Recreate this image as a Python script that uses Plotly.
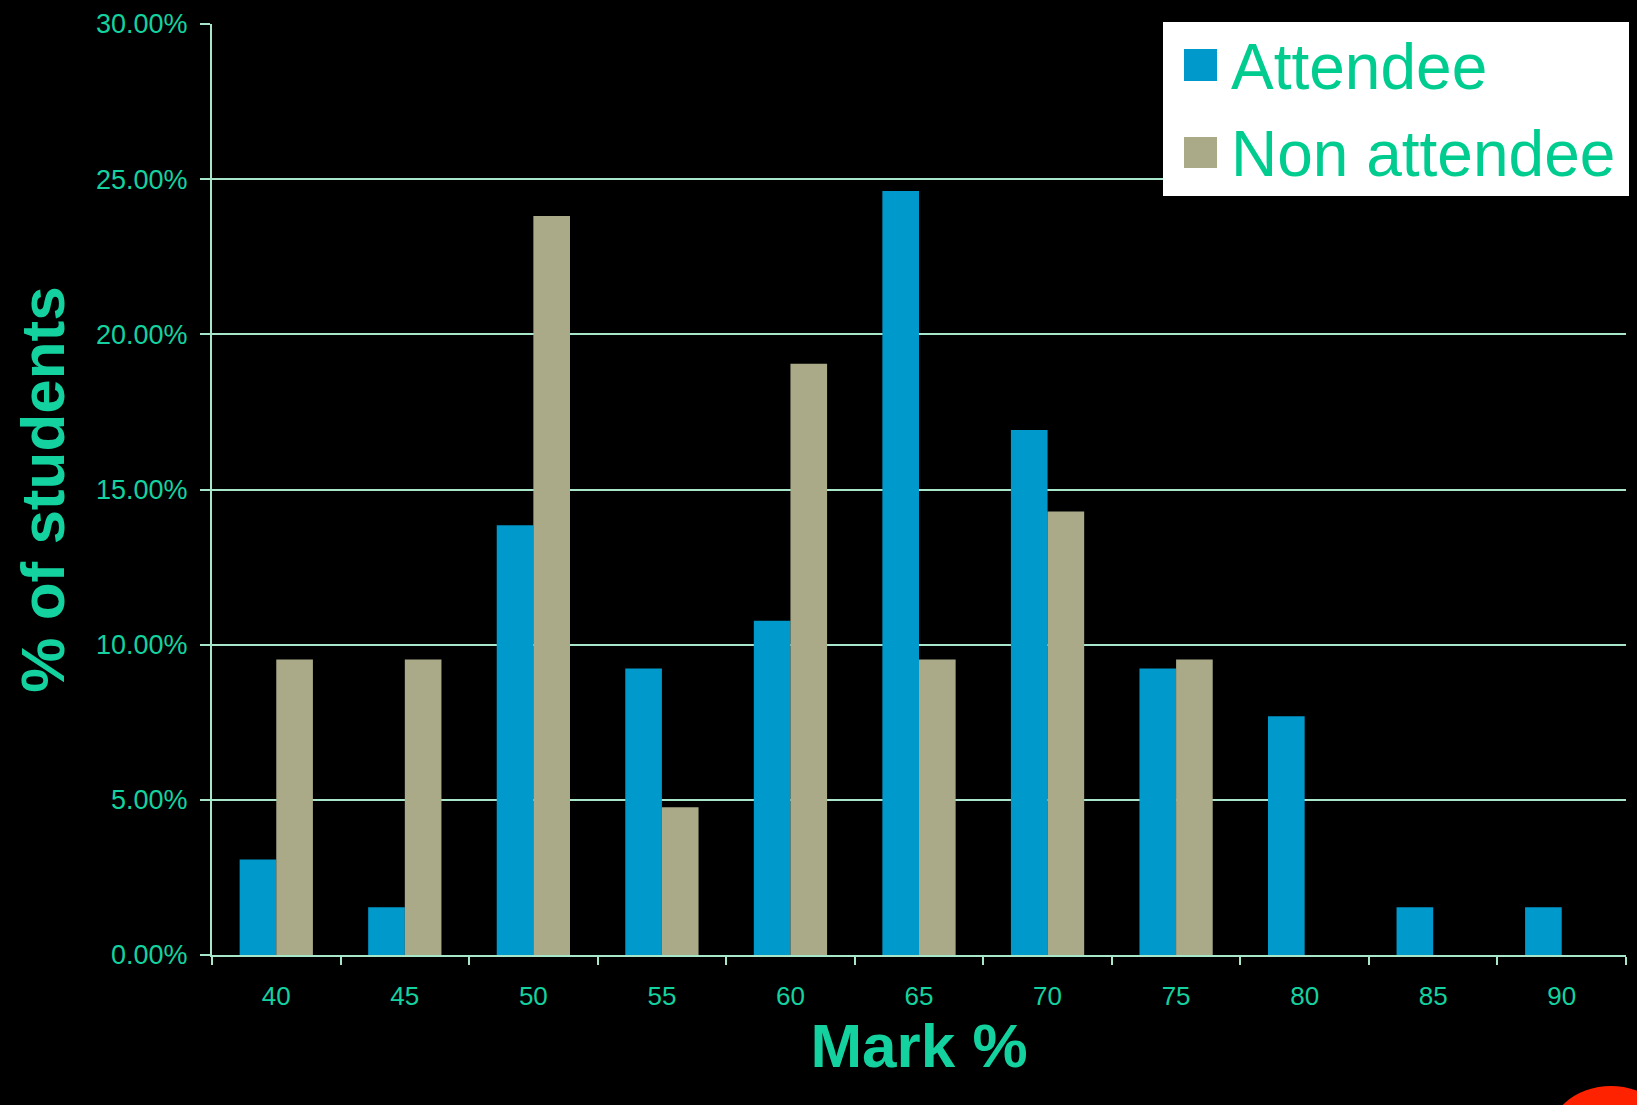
import plotly.graph_objects as go

marks = ["40", "45", "50", "55", "60", "65", "70", "75", "80", "85", "90"]
attendee = [0.0308, 0.0154, 0.1385, 0.0923, 0.1077, 0.2462, 0.1692, 0.0923, 0.0769, 0.0154, 0.0154]
non_attendee = [0.0952, 0.0952, 0.2381, 0.0476, 0.1905, 0.0952, 0.1429, 0.0952, 0.0, 0.0, 0.0]
series_names = ["Attendee", "Non attendee"]
y_ticks = [0, 0.05, 0.10, 0.15, 0.20, 0.25, 0.30]

W, H = 1637, 1105
ML, MR, MT, MB = 212, 11, 24, 150
PW, PH = W - ML - MR, H - MT - MB

def px(x):
    return (x - ML) / PW

def py(y):
    return 1 - (y - MT) / PH

TEXT = "#14D29F"
GRID = "#A8E6CA"
C_ATT = "#0099CC"
C_NON = "#AAAA88"
FONT = "Arial, Liberation Sans, sans-serif"

fig = go.Figure()
fig.add_trace(go.Bar(x=marks, y=attendee, name=series_names[0], marker_color=C_ATT,
                     marker_line_width=0, showlegend=False))
fig.add_trace(go.Bar(x=marks, y=non_attendee, name=series_names[1], marker_color=C_NON,
                     marker_line_width=0, showlegend=False))

fig.update_layout(
    width=W, height=H,
    margin=dict(l=ML, r=MR, t=MT, b=MB, autoexpand=False),
    paper_bgcolor="black", plot_bgcolor="black",
    barmode="group", bargap=0.43, bargroupgap=0,
    font=dict(family=FONT, color=TEXT),
    showlegend=False,
)

fig.update_xaxes(
    type="category", tickson="boundaries",
    showgrid=False, showline=True, linecolor=GRID, linewidth=2,
    ticks="outside", ticklen=8, tickwidth=2, tickcolor=GRID,
    tickfont=dict(size=26, color=TEXT, family=FONT),
    ticklabelstandoff=17,
    title=dict(text="<b>Mark %</b>", font=dict(size=62, color=TEXT, family=FONT), standoff=0),
    automargin=False,
)
fig.update_yaxes(
    range=[0, 0.30], tickvals=y_ticks, tickformat=".2%",
    showgrid=True, gridcolor=GRID, gridwidth=2,
    showline=True, linecolor=GRID, linewidth=2,
    ticks="outside", ticklen=10, tickwidth=2, tickcolor=GRID,
    tickfont=dict(size=27, color=TEXT, family=FONT),
    ticklabelstandoff=7,
    zeroline=False,
    title=dict(text="<b>% of students</b>", font=dict(size=62, color=TEXT, family=FONT), standoff=11),
    automargin=False,
)

# legend (drawn to match the large legend box of the original)
fig.add_shape(type="rect", xref="paper", yref="paper",
              x0=px(1163), x1=px(1629), y0=py(196), y1=py(22),
              fillcolor="white", line=dict(width=0), layer="above")
fig.add_shape(type="rect", xref="paper", yref="paper",
              x0=px(1184), x1=px(1217), y0=py(81), y1=py(49),
              fillcolor=C_ATT, line=dict(width=0), layer="above")
fig.add_shape(type="rect", xref="paper", yref="paper",
              x0=px(1184), x1=px(1217), y0=py(168), y1=py(137),
              fillcolor=C_NON, line=dict(width=0), layer="above")
fig.add_annotation(text=series_names[0], xref="paper", yref="paper", x=px(1229), y=py(67),
                   xanchor="left", yanchor="middle", showarrow=False,
                   font=dict(size=64, color="#00CC90", family=FONT))
fig.add_annotation(text=series_names[1], xref="paper", yref="paper", x=px(1229), y=py(154),
                   xanchor="left", yanchor="middle", showarrow=False,
                   font=dict(size=64, color="#00CC90", family=FONT))

# red decoration at bottom-right corner
fig.add_shape(type="circle", xref="paper", yref="paper",
              x0=px(1546), x1=px(1676), y0=py(1200), y1=py(1086),
              fillcolor="#FF2200", line=dict(width=0), layer="above")

fig.write_html("out.html")
